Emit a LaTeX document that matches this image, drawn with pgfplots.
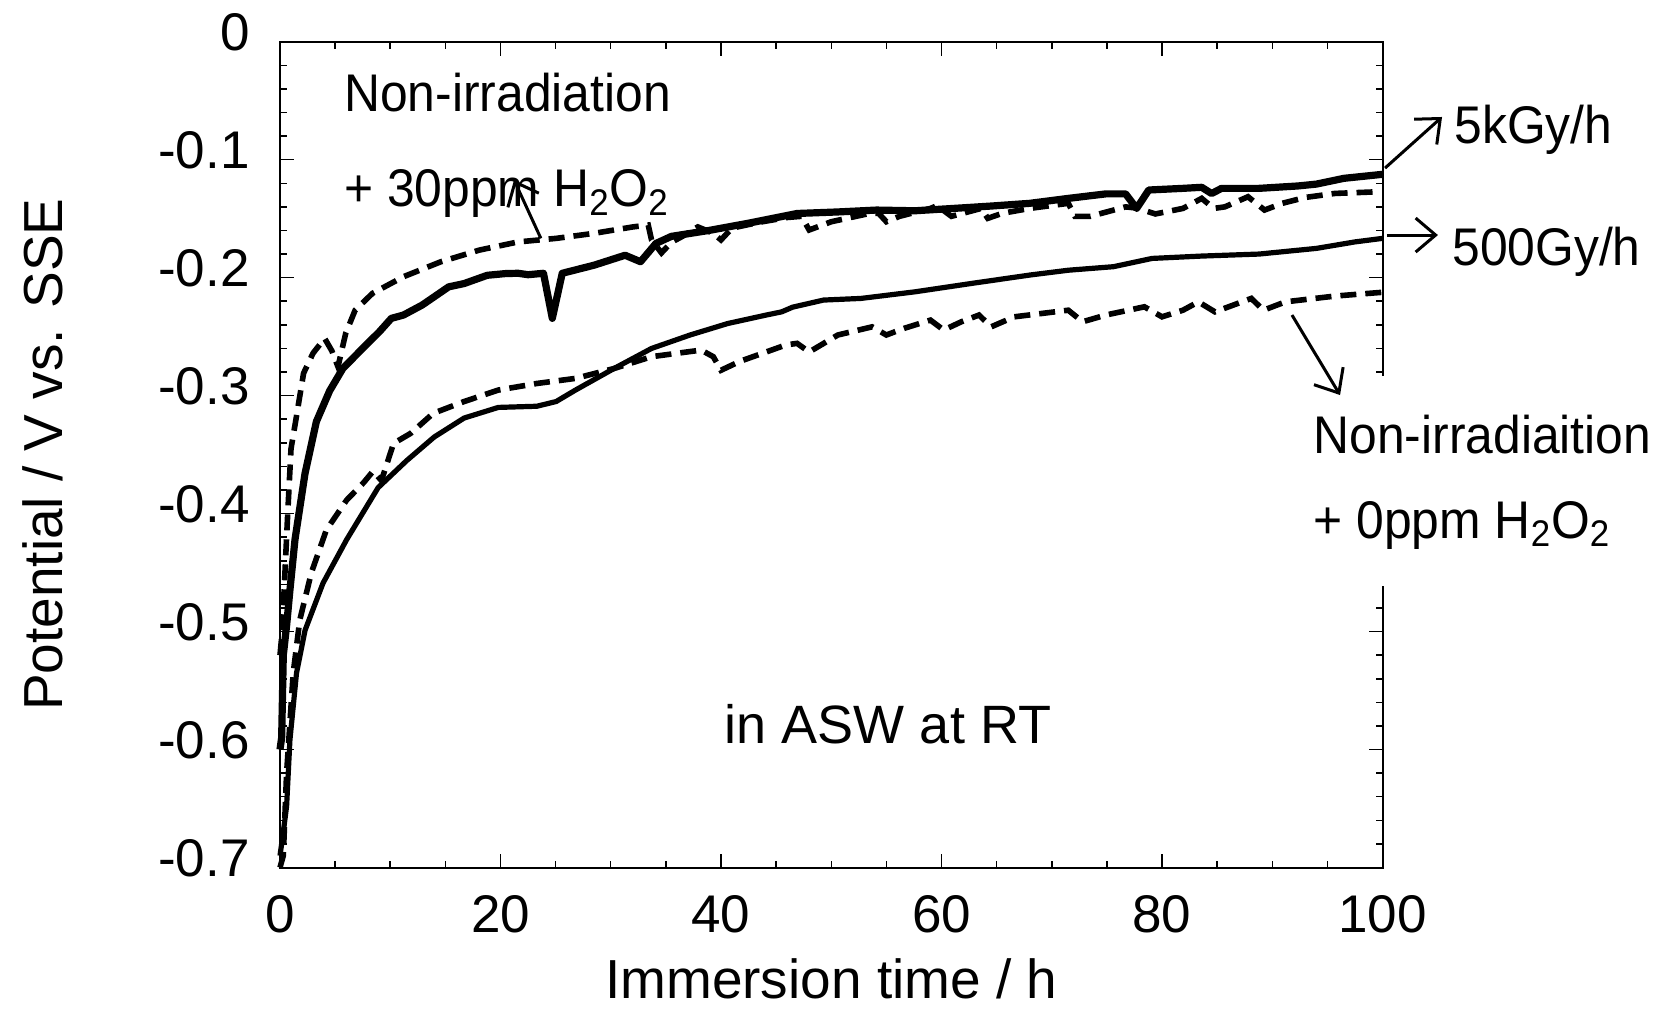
\documentclass[border=0pt]{standalone}
\usepackage{fontspec}
\setmainfont{Liberation Sans}
\newfontfamily\annfont{Liberation Sans}[FakeStretch=0.94]
\usepackage{pgfplots}
\pgfplotsset{compat=1.18}
\usetikzlibrary{arrows.meta}

\begin{document}
\begin{tikzpicture}
\path[use as bounding box] (-140pt,-70.25pt) rectangle (687.5pt,433.75pt);
\begin{axis}[
  scale only axis, width=551.25pt, height=412.9pt,
  xmin=0, xmax=100, ymin=-0.7, ymax=0,
  axis line style={line width=1pt},
  tick align=inside,
  xtick={0,20,40,60,80,100}, xticklabels={0,20,40,60,80,100},
  ytick={-0.7,-0.6,-0.5,-0.4,-0.3,-0.2,-0.1,0},
  yticklabels={-0.7,-0.6,-0.5,-0.4,-0.3,-0.2,-0.1,0},
  minor x tick num=3, minor y tick num=4,
  major tick length=7pt, minor tick length=3.5pt,
  tick style={black, line width=0.75pt},
  tick label style={font=\fontsize{26.5pt}{30pt}\selectfont},
  x tick label style={inner sep=0pt, yshift=-13.75pt},
  y tick label style={inner sep=0pt, xshift=-15pt, yshift=4.5pt},
  xlabel={Immersion time / h}, ylabel={Potential / V vs. SSE},
  label style={font=\fontsize{27.5pt}{32pt}\selectfont},
  xlabel style={at={(axis description cs:0.5,-0.1585)}, anchor=base, inner sep=0pt},
  ylabel style={at={(axis description cs:-0.1977,0.5)}, anchor=base, inner sep=0pt},
  clip=false,
]
% 5 kGy/h
\addplot[black, line width=3.6pt, line join=round] coordinates {
(0,-0.600) (0.15,-0.590) (0.3,-0.520) (0.6,-0.495) (0.9,-0.465) (1.36,-0.422)
(2.27,-0.366) (3.3,-0.322) (4.5,-0.296) (5.7,-0.277) (7.7,-0.258) (9.0,-0.246)
(10.1,-0.2345) (11.2,-0.2317) (12.9,-0.2232) (15.3,-0.2078) (16.7,-0.205)
(18.8,-0.198) (20.5,-0.1965) (21.6,-0.1963) (22.5,-0.1975) (23.9,-0.1963)
(24.7,-0.2345) (25.6,-0.1963) (28.5,-0.1894) (31.3,-0.181) (32.7,-0.1865)
(34.1,-0.171) (35.5,-0.165) (38.9,-0.160) (42.4,-0.154) (46.9,-0.1456)
(50.6,-0.1443) (54.1,-0.1427) (57.6,-0.1433) (61.1,-0.1413) (64.5,-0.1393)
(68.0,-0.137) (71.5,-0.1328) (74.9,-0.129) (76.7,-0.129) (77.7,-0.1413)
(78.8,-0.1257) (81.9,-0.1243) (83.6,-0.1234) (84.5,-0.1287) (85.4,-0.1243)
(88.8,-0.1243) (92.3,-0.1223) (94.0,-0.1207) (96.5,-0.1158) (100,-0.1124)
};
% Non-irradiation + 30 ppm H2O2
\addplot[black, line width=2.8pt, dash pattern=on 8pt off 4.5pt] coordinates {
(0,-0.520) (0.2,-0.500) (0.45,-0.450) (0.7,-0.400) (1.0,-0.345) (1.45,-0.320)
(2.14,-0.281) (3.0,-0.264) (4.05,-0.2515) (4.7,-0.262) (5.26,-0.2755)
(5.96,-0.2472) (6.82,-0.2275) (8.39,-0.2133) (11.2,-0.1992) (14.6,-0.1865)
(18.1,-0.1766) (21.6,-0.1697) (25.05,-0.1667) (28.5,-0.1624) (32.0,-0.157)
(33.4,-0.1554) (33.7,-0.168) (34.6,-0.179) (35.5,-0.170) (36.5,-0.165)
(37.9,-0.157) (39.3,-0.1624) (40.0,-0.168) (41.0,-0.158) (43.5,-0.153)
(46.0,-0.149) (47.3,-0.148) (48.0,-0.1596) (50.0,-0.1526) (53.5,-0.1455)
(54.3,-0.1455) (55.0,-0.1526) (56.2,-0.148) (59.0,-0.1413) (59.6,-0.139)
(60.9,-0.148) (62.4,-0.1443) (63.6,-0.1413) (64.2,-0.1497) (65.5,-0.1455)
(68.0,-0.1413) (71.5,-0.137) (72.1,-0.148) (73.5,-0.148) (76.7,-0.140)
(77.7,-0.141) (79.4,-0.146) (81.9,-0.1413) (83.6,-0.1328) (84.7,-0.1413)
(85.7,-0.140) (87.8,-0.1314) (89.3,-0.1427) (90.9,-0.137) (93.0,-0.132)
(95.7,-0.1286) (99.6,-0.1272)
};
% 500 Gy/h
\addplot[black, line width=2.6pt, line join=round] coordinates {
(0,-0.690) (0.3,-0.670) (0.6,-0.648) (0.9,-0.592) (1.5,-0.535) (2.27,-0.499)
(3.9,-0.459) (6.05,-0.422) (8.9,-0.378) (11.5,-0.355) (14.0,-0.335)
(16.7,-0.319) (19.8,-0.310) (23.3,-0.309) (25.05,-0.305) (26.8,-0.2953)
(30.3,-0.277) (33.7,-0.260) (37.2,-0.2486) (40.6,-0.2389) (44.1,-0.2317)
(45.5,-0.2290) (46.5,-0.2250) (49.3,-0.219) (52.7,-0.2176) (57.6,-0.212)
(62.8,-0.2048) (68.0,-0.1978) (71.5,-0.1937) (75.6,-0.1907) (79.1,-0.1837)
(83.6,-0.1817) (88.8,-0.180) (94.0,-0.1752) (97.5,-0.1697) (100,-0.1667)
};
% Non-irradiation + 0 ppm H2O2
\addplot[black, line width=2.8pt, dash pattern=on 8pt off 4.5pt] coordinates {
(0,-0.700) (0.3,-0.690) (0.6,-0.620) (1.2,-0.535) (1.8,-0.490) (2.85,-0.450)
(4.2,-0.414) (6.05,-0.3885) (7.56,-0.374) (8.45,-0.364) (9.2,-0.372)
(10.3,-0.3405) (11.85,-0.332) (13.9,-0.315) (16.7,-0.305) (19.8,-0.2953)
(23.3,-0.2897) (26.8,-0.2854) (30.3,-0.277) (33.7,-0.267) (38.2,-0.2614)
(39.3,-0.267) (40.0,-0.2785) (41.7,-0.271) (45.9,-0.257) (46.9,-0.2557)
(48.0,-0.263) (50.6,-0.2486) (53.7,-0.2417) (55.0,-0.2486) (56.6,-0.243)
(59.0,-0.236) (60.2,-0.2444) (61.8,-0.2374) (63.4,-0.2317) (64.5,-0.2417)
(66.6,-0.2332) (71.5,-0.2276) (72.8,-0.2374) (74.9,-0.2317) (78.4,-0.2247)
(80.0,-0.2332) (81.9,-0.2276) (83.3,-0.2205) (84.8,-0.229) (88.1,-0.2176)
(89.2,-0.2276) (91.2,-0.2205) (95.7,-0.2156) (100,-0.2124)
};
% gap in the right axis line
\fill[white] (axis cs:97.6,-0.2834) rectangle (axis cs:101,-0.4614);
% annotations
\tikzset{ann/.style={anchor=base west, inner sep=0pt, font=\annfont\fontsize{26.5pt}{30pt}\selectfont},
         arr/.style={line width=1.5pt, -{Straight Barb[length=10pt,width=17pt,line width=1.5pt]}}}
\node[ann] at (axis cs:5.79,-0.0593) {Non-irradiation};
\node[ann] at (axis cs:5.79,-0.1399) {+ 30ppm H\textsubscript{2}O\textsubscript{2}};
\draw[arr] (axis cs:23.66,-0.1667) -- (axis cs:21.23,-0.1172);
\node[anchor=base, inner sep=0pt, font=\fontsize{27pt}{30pt}\selectfont] at (axis cs:55.15,-0.5945) {in ASW at RT};
\node[ann] at (axis cs:106.49,-0.0859) {5kGy/h};
\draw[arr] (axis cs:100.23,-0.1071) -- (axis cs:105.4,-0.0638);
\node[ann] at (axis cs:106.3,-0.1893) {500Gy/h};
\draw[arr] (axis cs:100.4,-0.1639) -- (axis cs:105.03,-0.1639);
\node[ann] at (axis cs:93.7,-0.3487) {Non-irradiaition};
\node[ann] at (axis cs:93.7,-0.4208) {+ 0ppm H\textsubscript{2}O\textsubscript{2}};
\draw[arr] (axis cs:91.79,-0.2317) -- (axis cs:96.15,-0.2995);
\end{axis}
\end{tikzpicture}
\end{document}
